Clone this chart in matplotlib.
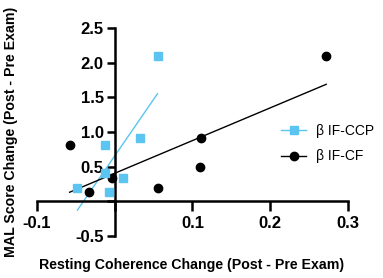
import numpy as np
import matplotlib.pyplot as plt

plt.rcParams['font.family'] = ['Liberation Sans', 'DejaVu Sans']

# beta IF-CCP (blue squares)
ccp_x = [-0.048, -0.012, 0.032, -0.012, 0.010, -0.007, 0.055]
ccp_y = [0.20, 0.81, 0.92, 0.41, 0.33, 0.13, 2.09]

# beta IF-CF (black circles)
cf_x = [-0.058, -0.033, -0.004, 0.056, 0.110, 0.111, 0.272]
cf_y = [0.81, 0.13, 0.33, 0.20, 0.50, 0.92, 2.09]

blue = '#5bc4f1'

fig = plt.figure(figsize=(3.83, 2.78), dpi=100)
ax = fig.add_axes([0.0966, 0.151, 0.812, 0.748])


def fit_line(x, y):
    x = np.array(x)
    y = np.array(y)
    m, b = np.polyfit(x, y, 1)
    xs = np.array([x.min(), x.max()])
    return xs, m * xs + b


xs, ys = fit_line(ccp_x, ccp_y)
ax.plot(xs, ys, color=blue, lw=1, zorder=2)
xs, ys = fit_line(cf_x, cf_y)
ax.plot(xs, ys, color='black', lw=1, zorder=2)

ax.plot(cf_x, cf_y, 'o', color='black', ms=6, zorder=3)
ax.plot(ccp_x, ccp_y, 's', color=blue, ms=6, zorder=4)

# legend proxies
ax.plot([], [], '-s', color=blue, ms=6, lw=1, label='β IF-CCP')
ax.plot([], [], '-o', color='black', ms=6, lw=1, label='β IF-CF')
ax.legend(loc='center left', bbox_to_anchor=(0.745, 0.445), frameon=False,
          fontsize=10, handlelength=1.8, handletextpad=0.7, labelspacing=0.85)

ax.set_xlim(-0.1, 0.3)
ax.set_ylim(-0.5, 2.5)
ax.spines['left'].set_position(('data', 0))
ax.spines['bottom'].set_position(('data', 0))
ax.spines['top'].set_visible(False)
ax.spines['right'].set_visible(False)
for s in ['left', 'bottom']:
    ax.spines[s].set_linewidth(1.8)

ax.set_xticks([-0.1, 0, 0.1, 0.2, 0.3])
ax.set_xticklabels(['-0.1', '', '0.1', '0.2', '0.3'])
ax.set_yticks([-0.5, 0, 0.5, 1.0, 1.5, 2.0, 2.5])
ax.set_yticklabels(['-0.5', '', '0.5', '1.0', '1.5', '2.0', '2.5'])
ax.tick_params(width=1.8, length=7, labelsize=12)
ax.tick_params(axis='y', length=6, pad=2)
for lab in ax.get_xticklabels() + ax.get_yticklabels():
    lab.set_fontweight('bold')

fig.text(0.5, 0.045, 'Resting Coherence Change (Post - Pre Exam)',
         ha='center', va='center', fontsize=10.2, fontweight='bold')
fig.text(0.028, 0.525, 'MAL Score Change (Post - Pre Exam)', rotation=90,
         ha='center', va='center', fontsize=10.2, fontweight='bold')

fig.savefig('out.png', dpi=100)
